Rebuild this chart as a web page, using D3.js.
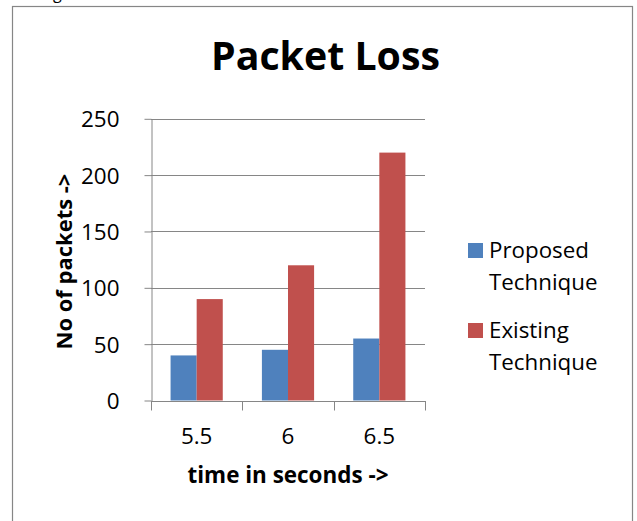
<!DOCTYPE html>
<html>
<head>
<meta charset="utf-8">
<script src="https://cdn.jsdelivr.net/npm/d3@7"></script>
<style>
  html, body { margin: 0; padding: 0; background: #fff; }
  svg { display: block; }
</style>
</head>
<body>
<svg id="chart" width="637" height="521"></svg>
<script>
// Packet loss per time instant
const categories = ["5.5", "6", "6.5"];
const seriesNames = ["Proposed Technique", "Existing Technique"];
const proposed = [40, 45, 55];
const existing = [90, 120, 220];
const yTicks = [0, 50, 100, 150, 200, 250];
const colors = ["#4F81BD", "#C0504D"];

const FONT = "'Open Sans', Lato, sans-serif";
const GRID = "#868686";

const svg = d3.select("#chart");

// Size a text so that its advance width equals the given width; returns the size
function fitWidth(sel, width) {
  const base = +sel.attr("font-size");
  const w = sel.node().getComputedTextLength();
  const size = base * width / w;
  sel.attr("font-size", size);
  return size;
}

// Clipped caption text above the frame
svg.append("text")
  .attr("x", 53).attr("y", -1)
  .attr("font-family", FONT).attr("font-size", 16)
  .attr("fill", "#000")
  .text("g");

// Outer frame of the chart area
svg.append("rect")
  .attr("x", 12.5).attr("y", 6.5)
  .attr("width", 620).attr("height", 540)
  .attr("fill", "#fff")
  .attr("stroke", GRID).attr("stroke-width", 1.2);

const plot = { left: 151, right: 425, top: 118.8, bottom: 400.5 };

const x0 = d3.scaleBand()
  .domain(categories)
  .range([plot.left, plot.right])
  .paddingInner(0.4286)
  .paddingOuter(0.2143);

const x1 = d3.scaleBand()
  .domain(seriesNames)
  .range([0, x0.bandwidth()]);

const y = d3.scaleLinear()
  .domain([0, 250])
  .range([plot.bottom, plot.top]);

// Horizontal gridlines
svg.append("g")
  .selectAll("line")
  .data(yTicks.filter(d => d > 0))
  .join("line")
  .attr("x1", plot.left).attr("x2", plot.right)
  .attr("y1", d => Math.round(y(d)) + 0.5).attr("y2", d => Math.round(y(d)) + 0.5)
  .attr("stroke", GRID).attr("stroke-width", 1);

// Bars
const rows = categories.map((c, i) => ({ cat: c, values: [proposed[i], existing[i]] }));
svg.append("g")
  .selectAll("g")
  .data(rows)
  .join("g")
  .attr("transform", d => `translate(${x0(d.cat)},0)`)
  .selectAll("rect")
  .data(d => d.values.map((v, j) => ({ name: seriesNames[j], value: v, j })))
  .join("rect")
  .attr("x", d => x1(d.name))
  .attr("width", x1.bandwidth())
  .attr("y", d => y(d.value))
  .attr("height", d => y(0) - y(d.value))
  .attr("fill", d => colors[d.j]);

// Y axis
const yAxis = svg.append("g")
  .attr("transform", `translate(${plot.left + 0.5},0)`)
  .call(d3.axisLeft(y).tickValues(yTicks).tickSize(7).tickPadding(25).tickSizeOuter(0));
yAxis.select(".domain").attr("stroke", GRID);
yAxis.selectAll(".tick line").attr("stroke", GRID);
const yLabels = yAxis.selectAll(".tick text")
  .attr("font-family", FONT).attr("font-size", 20).attr("fill", "#000")
  .attr("dy", "0.36em");
const tickSize = fitWidth(yLabels.filter(d => d === 250), 38.5);
yLabels.attr("font-size", tickSize);

// X axis with boundary tick marks between categories
const xAxisG = svg.append("g")
  .attr("transform", `translate(0,${Math.round(plot.bottom) + 0.5})`);
xAxisG.append("line")
  .attr("x1", plot.left).attr("x2", plot.right + 1)
  .attr("stroke", GRID);
const boundaries = categories.map(c => x0(c) - x0.step() * x0.paddingOuter())
  .concat([plot.right]);
xAxisG.selectAll("line.bound")
  .data(boundaries)
  .join("line")
  .attr("class", "bound")
  .attr("x1", d => Math.round(d) + 0.5).attr("x2", d => Math.round(d) + 0.5)
  .attr("y1", 0).attr("y2", 9)
  .attr("stroke", GRID);
xAxisG.selectAll("text")
  .data(categories)
  .join("text")
  .attr("x", d => x0(d) + x0.bandwidth() / 2)
  .attr("y", 42.5)
  .attr("text-anchor", "middle")
  .attr("font-family", FONT).attr("font-size", tickSize).attr("fill", "#000")
  .text(d => d);

// Title
const title = svg.append("text")
  .attr("x", 325.5).attr("y", 70)
  .attr("text-anchor", "middle")
  .attr("font-family", FONT).attr("font-weight", "bold").attr("font-size", 36)
  .attr("fill", "#000")
  .text("Packet Loss");
fitWidth(title, 229);

// Axis titles
const yTitle = svg.append("text")
  .attr("transform", "translate(71.5,261.5) rotate(-90)")
  .attr("text-anchor", "middle")
  .attr("font-family", FONT).attr("font-weight", "bold").attr("font-size", 20)
  .attr("fill", "#000")
  .text("No of packets ->");
fitWidth(yTitle, 176);

const xTitle = svg.append("text")
  .attr("x", 288).attr("y", 483)
  .attr("text-anchor", "middle")
  .attr("font-family", FONT).attr("font-weight", "bold").attr("font-size", 20)
  .attr("fill", "#000")
  .text("time in seconds ->");
fitWidth(xTitle, 201);

// Legend
const legend = svg.append("g").attr("transform", "translate(468,243)");
const items = legend.selectAll("g")
  .data(seriesNames)
  .join("g")
  .attr("transform", (d, i) => `translate(0,${i * 80})`);
items.append("rect")
  .attr("width", 15).attr("height", 15)
  .attr("fill", (d, i) => colors[i]);
const legendText = items.append("text")
  .attr("font-family", FONT).attr("font-size", 20).attr("fill", "#000");
legendText.selectAll("tspan")
  .data(d => d.split(" "))
  .join("tspan")
  .attr("x", 21)
  .attr("y", (d, i) => 15 + i * 32)
  .text(d => d);
// size from the first word of the first entry
const probe = svg.append("text")
  .attr("font-family", FONT).attr("font-size", 20).text("Proposed");
const legendSize = fitWidth(probe, 100);
probe.remove();
legendText.attr("font-size", legendSize);
</script>
</body>
</html>
